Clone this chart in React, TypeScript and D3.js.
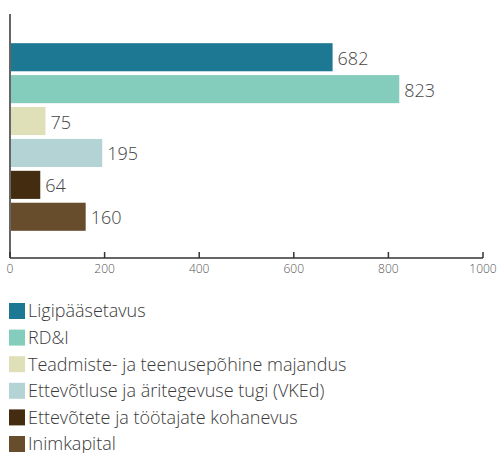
import { useEffect, useRef } from "react";
import * as d3 from "d3";

const categories = [
  "Ligipääsetavus",
  "RD&I",
  "Teadmiste- ja teenusepõhine majandus",
  "Ettevõtluse ja äritegevuse tugi (VKEd)",
  "Ettevõtete ja töötajate kohanevus",
  "Inimkapital",
];
const values = [682, 823, 75, 195, 64, 160];
const colors = ["#1c7893", "#84ccbb", "#e0e0b8", "#b3d3d5", "#432c10", "#684d2d"];
const ticks = [0, 200, 400, 600, 800, 1000];

const W = 499;
const H = 453;
const FONT = "'Open Sans', sans-serif";

export default function App() {
  const ref = useRef<SVGSVGElement | null>(null);

  useEffect(() => {
    if (!ref.current) return;
    const svg = d3.select(ref.current);
    svg.selectAll("*").remove();

    const x = d3.scaleLinear().domain([0, 1000]).range([10, 483]);
    const y = d3
      .scaleBand<string>()
      .domain(categories)
      .range([40, 234])
      .paddingInner(0.12)
      .paddingOuter(0.1);

    // bars
    svg
      .append("g")
      .selectAll("rect")
      .data(values)
      .join("rect")
      .attr("x", x(0) + 1)
      .attr("y", (_, i) => y(categories[i])!)
      .attr("width", (d) => x(d) - x(0) - 1)
      .attr("height", y.bandwidth())
      .attr("fill", (_, i) => colors[i]);

    // value labels
    svg
      .append("g")
      .selectAll("text")
      .data(values)
      .join("text")
      .attr("x", (d) => x(d) + 5)
      .attr("y", (_, i) => y(categories[i])! + y.bandwidth() / 2 + 1)
      .attr("dy", "0.36em")
      .attr("font-family", FONT)
      .attr("font-size", 18)
      .attr("font-weight", 300)
      .attr("fill", "#444")
      .text((d) => d);

    // axes
    const axisY = 258;
    const g = svg.append("g").attr("stroke", "#333").attr("stroke-width", 1.5);
    g.append("line").attr("x1", x(0)).attr("x2", x(0)).attr("y1", 14).attr("y2", axisY);
    g.append("line").attr("x1", x(0)).attr("x2", x(1000)).attr("y1", axisY).attr("y2", axisY);
    g.selectAll("line.t")
      .data(ticks)
      .join("line")
      .attr("class", "t")
      .attr("x1", (d) => x(d))
      .attr("x2", (d) => x(d))
      .attr("y1", axisY)
      .attr("y2", axisY - 6);

    svg
      .append("g")
      .selectAll("text")
      .data(ticks)
      .join("text")
      .attr("x", (d) => x(d))
      .attr("y", axisY + 15)
      .attr("text-anchor", "middle")
      .attr("font-family", FONT)
      .attr("font-size", 12)
      .attr("font-weight", 300)
      .attr("fill", "#555")
      .text((d) => d);

    // legend
    const leg = svg
      .append("g")
      .selectAll("g")
      .data(categories)
      .join("g")
      .attr("transform", (_, i) => `translate(9, ${303 + i * 26.6})`);
    leg.append("rect").attr("width", 16).attr("height", 16).attr("fill", (_, i) => colors[i]);
    leg
      .append("text")
      .attr("x", 19)
      .attr("y", 8)
      .attr("dy", "0.36em")
      .attr("font-family", FONT)
      .attr("font-size", 18)
      .attr("font-weight", 300)
      .attr("fill", "#3a3a3a")
      .text((d) => d);
  }, []);

  return (
    <svg
      ref={ref}
      width={W}
      height={H}
      style={{ position: "absolute", left: 0, top: 0, background: "#fff" }}
    />
  );
}
